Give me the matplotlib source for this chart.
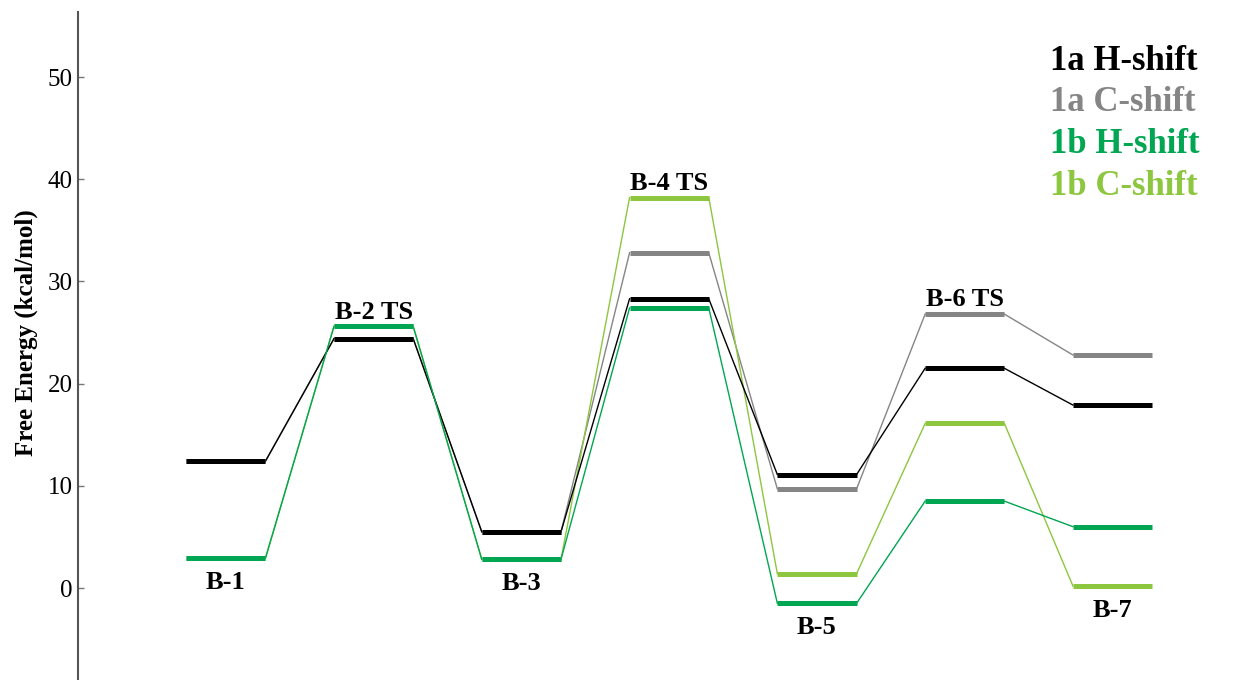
import matplotlib
matplotlib.use("Agg")
import matplotlib.pyplot as plt

states = ["B-1", "B-2 TS", "B-3", "B-4 TS", "B-5", "B-6 TS", "B-7"]
h1a = [12.4, 24.4, 5.5, 28.3, 11.1, 21.5, 17.9]
c1a = [12.4, 24.4, 5.5, 32.8, 9.7, 26.8, 22.8]
h1b = [2.9, 25.6, 2.8, 27.4, -1.5, 8.5, 6.0]
c1b = [2.9, 25.6, 2.8, 38.2, 1.4, 16.1, 0.2]
series_names = ["1a H-shift", "1a C-shift", "1b H-shift", "1b C-shift"]
series_colors = ["#000000", "#858585", "#00a651", "#8dc63f"]
label_pos = ["below", "above", "below", "above", "below", "above", "below"]
yticks = [0, 10, 20, 30, 40, 50]

plt.rcParams['font.family'] = ['Liberation Serif', 'DejaVu Serif']

W, H = 1233, 680
fig = plt.figure(figsize=(W / 100, H / 100), dpi=100)
ax = fig.add_axes([78 / W, 0, 1 - 78 / W, (680 - 12) / H])
ax.set_xlim(-1.0, 6.815)
ax.set_ylim(-9.0, 56.36)

hw = 0.268
series = [h1a, c1a, h1b, c1b]
order = [1, 0, 3, 2]  # draw gray below black, light green below green
for k in order:
    vals = series[k]
    col = series_colors[k]
    top = 1 if k in (0, 2) else 0
    for i, v in enumerate(vals):
        ax.plot([i - hw, i + hw], [v, v], color=col, lw=3.6, solid_capstyle='butt', zorder=4 + top)
        if i < len(vals) - 1:
            ax.plot([i + hw, i + 1 - hw], [v, vals[i + 1]], color=col, lw=1.0, zorder=2 + top)

for i, (name, pos) in enumerate(zip(states, label_pos)):
    allv = [s[i] for s in series]
    if pos == "above":
        y = max(allv)
        ax.annotate(name, (i, y), xytext=(0, 5.5), textcoords='offset points',
                    ha='center', va='baseline', fontsize=19, fontweight='bold')
    else:
        y = min(allv)
        ax.annotate(name, (i, y), xytext=(0, -22), textcoords='offset points',
                    ha='center', va='baseline', fontsize=19, fontweight='bold')

for spine in ['top', 'right', 'bottom']:
    ax.spines[spine].set_visible(False)
ax.spines['left'].set_color('#555555')
ax.spines['left'].set_linewidth(1.5)
ax.set_xticks([])
ax.set_yticks(yticks)
ax.tick_params(axis='y', direction='in', labelsize=18, length=4, width=1, color='#777777', pad=4)
ax.set_ylabel("Free Energy (kcal/mol)", fontsize=18, fontweight='bold')
ax.yaxis.set_label_coords(-(78 - 26) / (W - 78), (680 - 333) / (680 - 12))
ax.yaxis.label.set_va('center')

for j, (name, col) in enumerate(zip(series_names, series_colors)):
    fig.text(1050 / W, 1 - (61 + 41.7 * j) / H, name, color=col, fontsize=25,
             fontweight='bold', ha='left', va='center')

fig.savefig("out.png", dpi=100)
